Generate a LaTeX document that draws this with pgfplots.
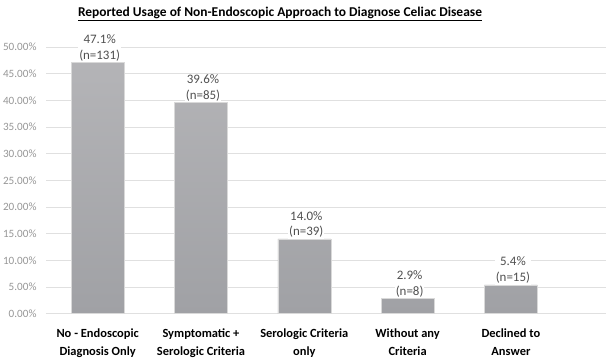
\documentclass[border=0pt]{standalone}
\usepackage{pgfplots}
\pgfplotsset{compat=1.18}
\usepackage{fontspec}
\setmainfont{Carlito}
\definecolor{bartop}{RGB}{180,180,183}
\definecolor{barbot}{RGB}{160,161,165}
\definecolor{gridc}{RGB}{224,224,224}
\definecolor{tickc}{RGB}{150,150,150}
\definecolor{lblc}{RGB}{80,80,80}
\begin{document}
\begin{tikzpicture}
\begin{axis}[
  name=ax,
  scale only axis, width=560bp, height=266.6bp,
  xmin=-0.5, xmax=4.92, ymin=0, ymax=50,
  ytick={0,5,...,50},
  yticklabel={\pgfmathprintnumber[fixed,fixed zerofill,precision=2]{\tick}\%},
  /pgf/number format/assume math mode=true,
  yticklabel style={text=tickc, font=\fontsize{11.2}{13}\selectfont, xshift=-6pt},
  ymajorgrids, grid style={gridc, line width=0.7pt},
  axis lines*=left,
  x axis line style={gridc, line width=0.7pt, -},
  y axis line style={draw=none},
  major tick length=0pt,
  xtick={0,...,4},
  xticklabels={{No - Endoscopic\\Diagnosis Only},{Symptomatic +\\Serologic Criteria},{Serologic Criteria\\only},{Without any\\Criteria},{Declined to\\Answer}},
  xticklabel style={align=center, font=\bfseries\fontsize{12.5}{17.5}\selectfont, yshift=-12pt},
  title={\bfseries\underline{Reported Usage of Non-Endoscopic Approach to Diagnose Celiac Disease}},
  title style={font=\fontsize{13.5}{15}\selectfont, yshift=17pt, xshift=-46bp},
  ybar, bar width=53bp,
  nodes near coords, point meta=explicit symbolic,
  nodes near coords style={align=center, fill=white, inner sep=1pt, text=lblc, font=\fontsize{13}{16}\selectfont, xshift=2pt},
]
\addplot[draw=white!85!black, line width=0.4pt, top color=bartop, bottom color=barbot] coordinates {
  (0,47.1) [47.1\%\\(n=131)]
  (1,39.6) [39.6\%\\(n=85)]
  (2,14.0) [14.0\%\\(n=39)]
  (3,2.9) [2.9\%\\(n=8)]
  (4,5.4) [5.4\%\\(n=15)]
};
\end{axis}
\pgfresetboundingbox
\path[use as bounding box] ([shift={(-46bp,-45bp)}]ax.south west) rectangle ([shift={(0bp,47bp)}]ax.north east);
\end{tikzpicture}
\end{document}
